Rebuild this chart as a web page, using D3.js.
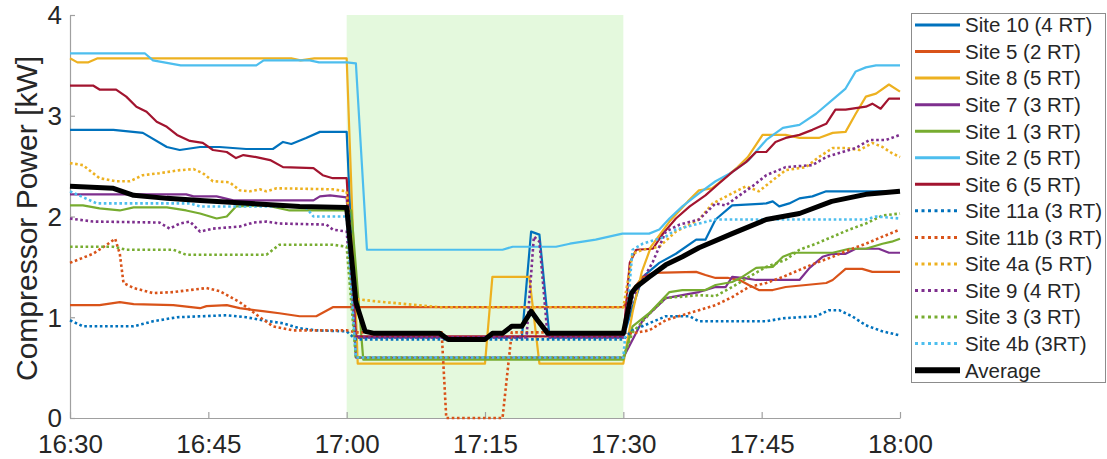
<!DOCTYPE html>
<html><head><meta charset="utf-8">
<script src="https://cdn.jsdelivr.net/npm/d3@7"></script>
<style>body{margin:0;background:#fff}svg{display:block;font-family:"Liberation Sans",Arial,sans-serif}</style>
</head><body><svg id="c" width="1107" height="459"></svg>
<script>
// minutes after 16:30
const xTickMinutes = [0,15,30,45,60,75,90];
const xTickLabels = ["16:30","16:45","17:00","17:15","17:30","17:45","18:00"];
const yTicks = [0,1,2,3,4];
const eventWindow = [30,60];
const yLabel = "Compressor Power [kW]";

const seriesNames = ["Site 10 (4 RT)","Site 5 (2 RT)","Site 8 (5 RT)","Site 7 (3 RT)","Site 1 (3 RT)","Site 2 (5 RT)","Site 6 (5 RT)","Site 11a (3 RT)","Site 11b (3 RT)","Site 4a (5 RT)","Site 9 (4 RT)","Site 3 (3 RT)","Site 4b (3RT)","Average"];

// [minute after 16:30, kW]
const site10 = [[0,2.86],[4.7,2.86],[7.9,2.83],[10.5,2.69],[11.9,2.66],[14.1,2.69],[16.2,2.69],[19.1,2.67],[22,2.67],[23.1,2.74],[24,2.72],[25.6,2.78],[27.1,2.84],[30,2.84],[31,0.80],[49,0.80],[50,1.85],[50.9,1.82],[52,0.80],[60,0.80],[61,1.1],[62.1,1.40],[63.9,1.54],[65.7,1.63],[67.9,1.77],[68.9,1.77],[70,1.97],[71.8,2.11],[75.5,2.13],[76.2,2.15],[76.9,2.10],[78,2.13],[79.1,2.18],[80.5,2.20],[82,2.25],[90,2.25]];
const site5 = [[0,1.12],[3.2,1.12],[5.4,1.15],[6.9,1.13],[11.2,1.12],[14.1,1.09],[14.8,1.11],[17,1.12],[18.4,1.09],[20.9,1.06],[22.7,1.04],[24.9,1.01],[26.7,1.01],[28.5,1.10],[60,1.10],[61,1.27],[62.1,1.40],[63.2,1.44],[67.9,1.45],[68.9,1.42],[70,1.39],[71.4,1.39],[72.6,1.37],[73.6,1.32],[74.7,1.27],[76.2,1.27],[77.6,1.30],[79.8,1.32],[82,1.34],[82.7,1.37],[84.1,1.48],[85.9,1.48],[87,1.45],[90,1.45]];
const site8 = [[0,3.57],[0.8,3.53],[2,3.53],[3,3.57],[24,3.57],[25,3.55],[26.5,3.57],[30,3.57],[31.2,0.54],[45,0.54],[45.8,1.40],[49.8,1.40],[50.9,0.54],[60,0.54],[61,1.05],[62,1.45],[63,1.7],[65,1.95],[67,2.15],[68.2,2.26],[69.6,2.28],[70.3,2.33],[72.4,2.49],[73.5,2.59],[75.1,2.81],[77.6,2.81],[79.1,2.78],[81.2,2.78],[82.7,2.83],[84.1,2.84],[85.2,3.02],[86.3,3.19],[87.4,3.22],[88.8,3.31],[90,3.24]];
const site7 = [[0,2.22],[12.6,2.22],[13.4,2.20],[15.9,2.20],[17.7,2.16],[26.4,2.16],[27.1,2.20],[28.2,2.21],[30,2.19],[31,0.60],[60,0.60],[62.1,0.97],[64.6,1.19],[66.4,1.22],[68.2,1.25],[70,1.30],[71.1,1.30],[71.8,1.40],[72.9,1.39],[74.4,1.37],[79.1,1.37],[80.2,1.49],[81.6,1.60],[82.7,1.63],[84.1,1.63],[85.2,1.68],[87.7,1.68],[88.8,1.64],[90,1.64]];
const site1 = [[0,2.11],[1.4,2.11],[3.2,2.08],[5.4,2.06],[6.9,2.09],[10.5,2.09],[12.6,2.06],[14.1,2.03],[15.9,1.98],[17,2.0],[18,2.10],[21.3,2.11],[23.8,2.06],[30.5,2.06],[31.8,0.58],[60,0.58],[61,0.91],[62.8,1.04],[65,1.25],[66.4,1.27],[68.9,1.27],[70,1.32],[71.8,1.35],[72.9,1.40],[74.4,1.49],[76.2,1.50],[77.3,1.60],[78.4,1.64],[82.7,1.64],[84.5,1.68],[86.3,1.68],[88.1,1.73],[89.1,1.75],[90,1.78]];
const site2 = [[0,3.62],[8.1,3.62],[9,3.55],[12,3.50],[20.2,3.50],[21,3.55],[26,3.55],[27,3.53],[30,3.53],[31,3.52],[32.2,1.67],[46.9,1.67],[48,1.70],[52.7,1.70],[54.2,1.73],[57,1.77],[59.9,1.83],[62.8,1.83],[63.9,1.87],[65,1.98],[66.4,2.10],[68.2,2.23],[70,2.35],[71.8,2.44],[73.6,2.56],[75.5,2.76],[77.3,2.88],[79.1,2.91],[80.9,3.02],[82.7,3.16],[84.1,3.27],[85.2,3.44],[86.3,3.48],[87.4,3.50],[90,3.50]];
const site6 = [[0,3.30],[2.5,3.30],[3.2,3.26],[5,3.26],[6.1,3.19],[7.2,3.09],[8.3,3.04],[9.4,2.94],[10.5,2.89],[11.6,2.81],[13,2.75],[14.4,2.73],[15.5,2.66],[17,2.64],[18,2.58],[18.8,2.61],[20.2,2.59],[21.7,2.56],[23.1,2.49],[26.4,2.48],[27.4,2.41],[28.5,2.38],[30,2.38],[31,0.81],[60,0.81],[60.7,1.54],[61.4,1.67],[63.2,1.68],[64.3,1.83],[65.7,1.98],[67.2,2.10],[68.9,2.21],[70.4,2.33],[71.8,2.44],[73.3,2.54],[74.4,2.64],[75.5,2.64],[76.5,2.74],[77.6,2.78],[79.1,2.81],[80.5,2.86],[82,2.92],[83,3.06],[84.1,3.06],[86.3,3.09],[87,3.12],[87.9,3.07],[88.8,3.17],[90,3.17]];
const site11a = [[0,0.97],[1.4,0.91],[6.9,0.91],[9,0.96],[11.6,1.0],[17,1.02],[19.1,1.0],[20.9,0.97],[23.1,0.94],[24.9,0.89],[26.7,0.87],[30,0.86],[31,0.78],[60,0.78],[61,0.87],[62.8,0.94],[64.6,1.01],[67.2,1.01],[68.2,0.96],[75.5,0.96],[77.3,0.99],[80.9,1.01],[82.3,1.07],[83.4,1.07],[84.8,1.01],[86.3,0.92],[88.1,0.86],[90,0.82]];
const site11b = [[0,1.54],[2.5,1.63],[4,1.72],[4.9,1.78],[5.4,1.63],[5.8,1.34],[6.9,1.29],[9,1.24],[11.2,1.25],[14.8,1.29],[16.2,1.26],[18.4,1.15],[20.6,1.0],[22,0.91],[24.2,0.87],[30,0.87],[31,0.85],[40.3,0.85],[40.8,0],[46.9,0],[47.9,0.85],[60,0.85],[61,0.84],[62.8,0.87],[64.6,0.97],[66.4,1.02],[68.2,1.07],[70,1.12],[71.8,1.20],[73.6,1.30],[75.5,1.34],[77.3,1.40],[79.1,1.47],[80.9,1.54],[82.7,1.60],[84.5,1.67],[86.3,1.73],[88.1,1.80],[90,1.87]];
const site4a = [[0,2.53],[1.4,2.51],[3.2,2.38],[5,2.35],[6.5,2.35],[7.9,2.41],[9.7,2.43],[11.9,2.46],[13.4,2.47],[14.4,2.43],[15.5,2.35],[17.3,2.34],[18.4,2.26],[19.5,2.25],[20.6,2.27],[21.3,2.25],[22.4,2.28],[28.5,2.27],[30,2.25],[31,1.18],[33,1.16],[40,1.10],[60,1.10],[61,1.63],[62.1,1.67],[63.9,1.70],[65.7,1.85],[68.2,1.97],[69.7,2.13],[71.8,2.23],[73.3,2.30],[74.7,2.25],[76.2,2.36],[77.6,2.46],[79.8,2.49],[81.2,2.59],[82.7,2.68],[84.1,2.68],[85.6,2.66],[87,2.73],[88.1,2.69],[89.1,2.63],[90,2.59]];
const site9 = [[0,1.98],[2.5,1.95],[9.7,1.94],[10.8,1.88],[11.9,1.93],[13,1.95],[14.1,1.85],[15.5,1.88],[18.4,1.90],[19.9,1.94],[21.3,1.95],[22.7,1.93],[27.8,1.92],[28.5,1.87],[30,1.85],[31,0.80],[49.5,0.80],[50.3,1.80],[50.9,1.75],[51.8,0.80],[60,0.80],[61,1.2],[62,1.35],[63.2,1.55],[64.6,1.85],[66.1,1.92],[68.2,1.97],[70,2.13],[71.1,2.11],[72.6,2.21],[74,2.30],[75.5,2.41],[77.6,2.49],[80.5,2.51],[82,2.59],[83.4,2.63],[85.2,2.68],[86.7,2.76],[88.5,2.76],[90,2.81]];
const site3 = [[0,1.70],[4.7,1.70],[6.1,1.67],[11.2,1.67],[12.6,1.62],[21.3,1.62],[22.7,1.72],[28.5,1.72],[30,1.70],[31,0.60],[60,0.60],[61,0.85],[62,0.95],[63,1.05],[64.6,1.19],[68.2,1.22],[70,1.21],[71.8,1.30],[73.6,1.40],[75.5,1.50],[77.6,1.57],[79.1,1.67],[80.9,1.73],[82.7,1.80],[84.5,1.87],[86.3,1.93],[88.1,2.01],[90,2.03]];
const site4b = [[0,2.25],[2.9,2.13],[13,2.13],[14.1,2.10],[25.5,2.10],[26.4,2.0],[30,2.0],[31,0.60],[60,0.60],[61,1.67],[62.1,1.73],[64.6,1.80],[65.7,1.87],[68.2,1.93],[70,1.97],[86.3,1.97],[87.4,2.0],[90,1.98]];
const average = [[0,2.30],[4.7,2.28],[6.9,2.21],[10.5,2.18],[14.1,2.16],[21.3,2.12],[24.9,2.10],[30,2.09],[31,1.15],[32,0.86],[33,0.84],[40.1,0.84],[41,0.78],[45,0.78],[45.8,0.84],[46.9,0.84],[47.9,0.91],[49,0.91],[50,1.06],[50.7,0.97],[51.8,0.84],[60,0.84],[60.9,1.24],[61.4,1.30],[62.8,1.40],[64.6,1.52],[66.4,1.60],[68.2,1.69],[71.8,1.83],[75.5,1.97],[79.1,2.03],[82.6,2.15],[86.3,2.22],[90,2.25]];

const seriesData = [site10,site5,site8,site7,site1,site2,site6,site11a,site11b,site4a,site9,site3,site4b,average];

// styles
const colors = ["#0072BD","#D95319","#EDB120","#7E2F8E","#77AC30","#4DBEEE","#A2142F","#0072BD","#D95319","#EDB120","#7E2F8E","#77AC30","#4DBEEE","#000000"];
const kinds  = ["solid","solid","solid","solid","solid","solid","solid","dot","dot","dot","dot","dot","dot","avg"];

const svg = d3.select("#c");
const x = d3.scaleLinear().domain([0,90]).range([70,900]);
const y = d3.scaleLinear().domain([0,4]).range([418,15]);
const textColor = "#262626";
const axisColor = "#a0a0a0";

// event shading
svg.append("rect")
  .attr("x", x(eventWindow[0])).attr("y", y(4))
  .attr("width", x(eventWindow[1]) - x(eventWindow[0]))
  .attr("height", y(0) - y(4))
  .attr("fill", "#e4f9dd");

// axes
const xAxis = d3.axisBottom(x).tickValues(xTickMinutes)
  .tickFormat((d,i) => xTickLabels[i]).tickSizeInner(-6).tickSizeOuter(0).tickPadding(17);
const gx = svg.append("g").attr("transform", `translate(0,${y(0)})`).call(xAxis);
const yAxis = d3.axisLeft(y).tickValues(yTicks).tickFormat(d3.format("d"))
  .tickSizeInner(-5).tickSizeOuter(0).tickPadding(8);
const gy = svg.append("g").attr("transform", `translate(${x(0)},0)`).call(yAxis);
[gx, gy].forEach(g => {
  g.select(".domain").attr("stroke", axisColor).attr("stroke-width", 1.2);
  g.selectAll(".tick line").attr("stroke", axisColor).attr("stroke-width", 1.2);
  g.selectAll(".tick text").attr("fill", textColor).style("font-size", "26px")
   .style("font-family", '"Liberation Sans",Arial,sans-serif');
});
gy.selectAll(".tick text").attr("dy", "0.34em");

svg.append("text")
  .attr("transform", `translate(37,${(y(0)+y(4))/2+2}) rotate(-90)`)
  .attr("text-anchor", "middle")
  .attr("fill", textColor)
  .style("font-size", "30px")
  .text(yLabel);

// lines
const line = d3.line().x(d => x(d[0])).y(d => y(d[1]));
function styleLine(sel, i) {
  const k = kinds[i];
  sel.attr("fill", "none").attr("stroke", colors[i])
    .attr("stroke-width", k === "avg" ? 5 : (k === "dot" ? 2.6 : 2.2))
    .attr("stroke-linejoin", "round");
  if (k === "dot") sel.attr("stroke-dasharray", "2.6,2.6");
}
seriesData.forEach((data, i) => {
  styleLine(svg.append("path").datum(data).attr("d", line), i);
});

// legend
const lg = svg.append("g");
lg.append("rect").attr("x", 911.5).attr("y", 13.5).attr("width", 194).attr("height", 369)
  .attr("fill", "#fff").attr("stroke", "#8c8c8c").attr("stroke-width", 1);
seriesNames.forEach((name, i) => {
  const cy = 25 + i * 26.55;
  const ln = lg.append("line").attr("x1", 915).attr("x2", 960).attr("y1", cy).attr("y2", cy);
  styleLine(ln, i);
  if (kinds[i] === "solid") ln.attr("stroke-width", 3);
  if (kinds[i] === "dot") ln.attr("stroke-width", 3).attr("stroke-dasharray","3,3.5");
  if (kinds[i] === "avg") ln.attr("stroke-width", 6);
  lg.append("text").attr("x", 965).attr("y", cy).attr("dy", "0.36em")
    .attr("fill", textColor).style("font-size", "20.5px").text(name);
});
</script></body></html>
